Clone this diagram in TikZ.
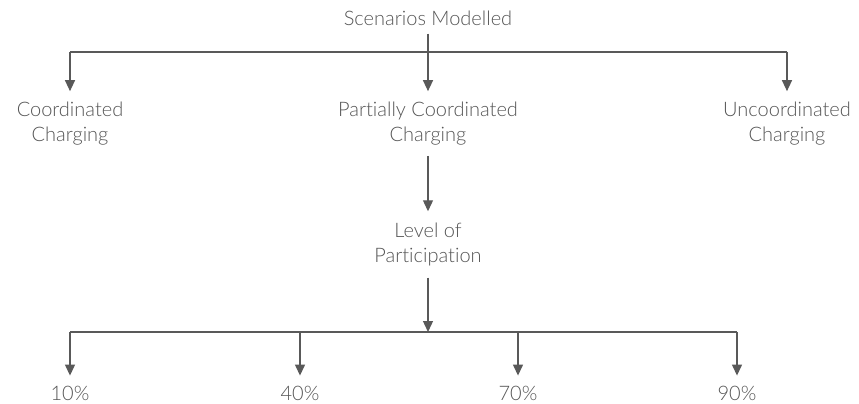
\documentclass[tikz,border=0pt]{standalone}
\usepackage{fontspec}
\setmainfont{Lato Light}[Ligatures=NoCommon]
\usetikzlibrary{positioning,arrows.meta}

\definecolor{linegrey}{HTML}{595959}
\definecolor{textgrey}{HTML}{555555}

\tikzset{
  caption/.style={align=center,text=textgrey,font=\fontsize{20}{25}\selectfont,inner sep=0pt},
  link/.style={draw=linegrey,line width=1.3pt,-{Triangle[length=11pt,width=10pt]}},
  bar/.style={draw=linegrey,line width=1.3pt}
}

\begin{document}
\begin{tikzpicture}[x=1pt,y=-1pt]
	\useasboundingbox (0,0) rectangle (859,404);

	% top level
	\node[caption] (scen) at (428,18) {Scenarios Modelled};

	% the three scenarios
	\node[caption] (coord)   at (70,124)  {Coordinated\\Charging};
	\node[caption] (partial) at (428,124) {Partially Coordinated\\Charging};
	\node[caption] (uncoord) at (787,124) {Uncoordinated\\Charging};

	\node[caption] (level) at (428,244) {Level of\\Participation};

	% participation shares
	\node[caption] (p10) at (70,393)  {10\%};
	\node[caption] (p40) at (300,393) {40\%};
	\node[caption] (p70) at (518,393) {70\%};
	\node[caption] (p90) at (737,393) {90\%};

	\coordinate (forkA) at (428,52);
	\coordinate (forkB) at (428,332);

	% first fork
	\draw[bar] (forkA -| coord) -- (forkA -| uncoord);
	\draw[link] ([yshift=-8pt]scen.south) -- ([yshift=11pt]partial.north);
	\draw[link] (forkA -| coord) -- ([yshift=11pt]coord.north);
	\draw[link] (forkA -| uncoord) -- ([yshift=11pt]uncoord.north);

	\draw[link] ([yshift=-10pt]partial.south) -- ([yshift=11pt]level.north);

	% second fork
	\draw[bar] (forkB -| p10) -- (forkB -| p90);
	\draw[link] ([yshift=-12pt]level.south) -- (forkB);
	\foreach \p in {p10,p40,p70,p90}
		\draw[link] (forkB -| \p) -- ([yshift=10pt]\p.north);
\end{tikzpicture}
\end{document}
